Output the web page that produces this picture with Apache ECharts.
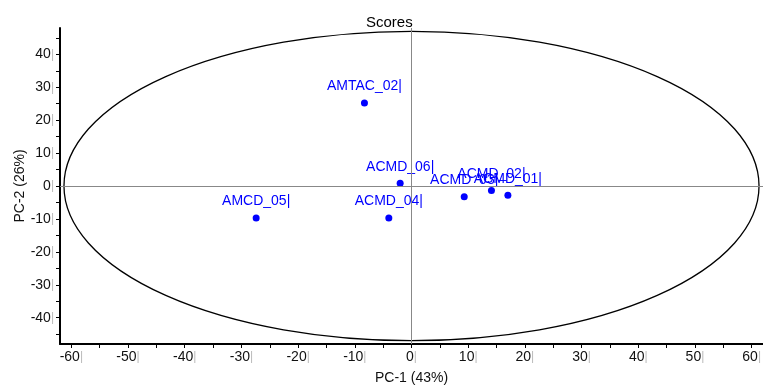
<!DOCTYPE html>
<html>
<head>
<meta charset="utf-8">
<script src="https://cdn.jsdelivr.net/npm/echarts@6/dist/echarts.min.js"></script>
<style>
  html, body { margin: 0; padding: 0; background: #fff; }
  #chart { width: 763px; height: 386px; }
</style>
</head>
<body>
<div id="chart"></div>
<script>
  // sample scores
  const sampleNames = ['AMTAC_02', 'ACMD_06', 'ACMD_04', 'AMCD_05', 'ACMD_03', 'ACMD_02', 'ACMD_01'];
  const pc1 = [-8.3, -2.0, -4.0, -27.4, 9.3, 14.1, 17.0];
  const pc2 = [25.2, 0.8, -9.7, -9.7, -3.3, -1.4, -2.8];

  // Hotelling ellipse: centre and half-axes (PC-1, PC-2)
  const ellipseCenter = [0, 0];
  const ellipseRadius = [61.3, 47.0];

  const xTicks = [-60, -55, -50, -45, -40, -35, -30, -25, -20, -15, -10, -5, 0, 5, 10, 15, 20, 25, 30, 35, 40, 45, 50, 55, 60];
  const xLabels = [-60, -50, -40, -30, -20, -10, 0, 10, 20, 30, 40, 50, 60];
  const yTicks = [-45, -40, -35, -30, -25, -20, -15, -10, -5, 0, 5, 10, 15, 20, 25, 30, 35, 40, 45];
  const yLabels = [-40, -30, -20, -10, 0, 10, 20, 30, 40];

  const chart = echarts.init(document.getElementById('chart'));

  const font = 'Liberation Sans, Arial';
  const tickLabel = {
    fontFamily: font,
    fontSize: 14,
    color: '#111',
    formatter: v => '{t|' + v + '}{b||}',
    rich: {
      t: { fontSize: 14, color: '#111', fontFamily: font },
      b: { fontSize: 12, color: '#bbb', fontFamily: font }
    }
  };

  const option = {
    animation: false,
    title: {
      text: 'Scores',
      left: 361,
      top: 10,
      textStyle: { fontFamily: font, fontSize: 15, fontWeight: 'normal', color: '#000' }
    },
    grid: { left: 60, right: 0, top: 28, bottom: 42, containLabel: false, outerBoundsMode: 'none' },
    xAxis: {
      type: 'value',
      min: -62,
      max: 62,
      name: 'PC-1 (43%)',
      nameLocation: 'middle',
      nameGap: 27,
      nameMoveOverlap: false,
      nameTextStyle: { fontFamily: font, fontSize: 14, color: '#111' },
      axisLine: { onZero: false, lineStyle: { color: '#000', width: 2 } },
      axisTick: { show: true, customValues: xTicks, length: 4, lineStyle: { color: '#000', width: 1 } },
      axisLabel: Object.assign({ customValues: xLabels, margin: 6 }, tickLabel),
      splitLine: { show: false }
    },
    yAxis: {
      type: 'value',
      min: -48,
      max: 48,
      name: 'PC-2 (26%)',
      nameLocation: 'middle',
      nameGap: 33,
      nameMoveOverlap: false,
      nameTextStyle: { fontFamily: font, fontSize: 14, color: '#111' },
      axisLine: { onZero: false, lineStyle: { color: '#000', width: 2 } },
      axisTick: { show: true, customValues: yTicks, length: 4, lineStyle: { color: '#000', width: 1 } },
      axisLabel: Object.assign({ customValues: yLabels, margin: 6 }, tickLabel),
      splitLine: { show: false }
    },
    series: [
      {
        type: 'custom',
        silent: true,
        data: [[ellipseCenter[0], ellipseCenter[1], ellipseRadius[0], ellipseRadius[1]]],
        renderItem: function (params, api) {
          const c = api.coord([api.value(0), api.value(1)]);
          const s = api.size([api.value(2), api.value(3)]);
          const rx = s[0], ry = s[1];
          const d = 'M' + (c[0] - rx) + ' ' + c[1] +
            ' A' + rx + ' ' + ry + ' 0 1 0 ' + (c[0] + rx) + ' ' + c[1] +
            ' A' + rx + ' ' + ry + ' 0 1 0 ' + (c[0] - rx) + ' ' + c[1] + ' Z';
          return {
            type: 'path',
            shape: { pathData: d },
            style: { fill: 'none', stroke: '#000', lineWidth: 1.3 }
          };
        }
      },
      {
        type: 'scatter',
        symbol: 'circle',
        symbolSize: 7,
        itemStyle: { color: '#0000ff', opacity: 1 },
        data: sampleNames.map((n, i) => ({ name: n, value: [pc1[i], pc2[i]] })),
        label: {
          show: true,
          position: 'top',
          distance: 6,
          formatter: p => '{t|' + p.name + '}{b||}',
          rich: {
            t: { fontSize: 14, color: '#0000ff', fontFamily: font },
            b: { fontSize: 14, color: '#0000ff', fontFamily: font }
          }
        },
        markLine: {
          silent: true,
          symbol: 'none',
          label: { show: false },
          lineStyle: { color: '#888', width: 1, type: 'solid' },
          data: [{ xAxis: 0 }, { yAxis: 0 }]
        },
        z: 3
      }
    ]
  };

  chart.setOption(option);
</script>
</body>
</html>
